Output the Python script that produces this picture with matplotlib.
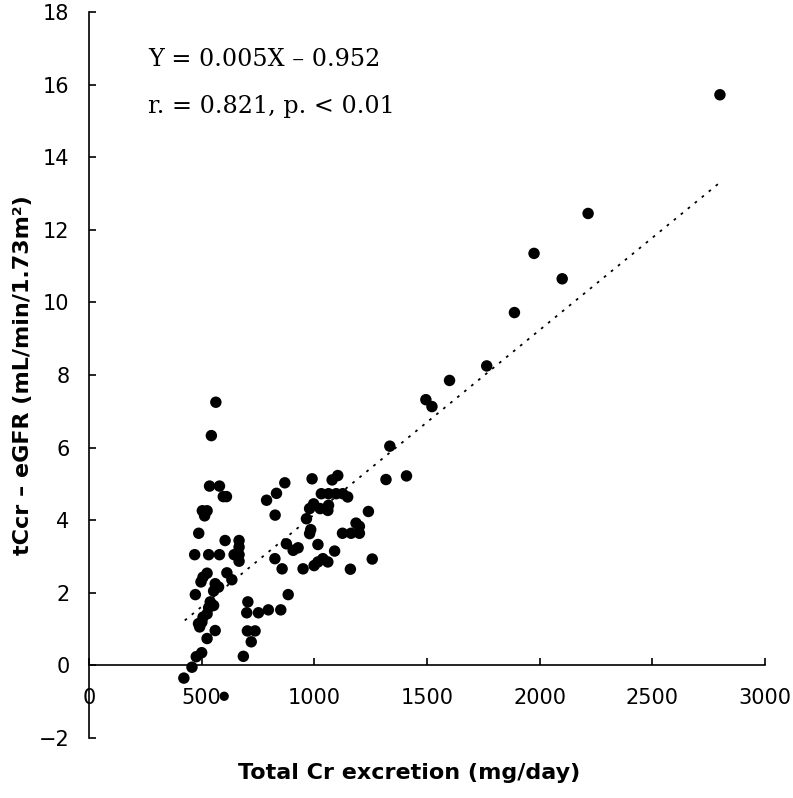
import numpy as np
import matplotlib
matplotlib.use("Agg")
import matplotlib.pyplot as plt

# Data
cr_excretion = [421, 457, 476, 500, 524, 560, 685, 720, 703, 737,
                700, 752, 705, 796, 851, 884, 491, 501, 486, 506,
                524, 531, 553, 538, 472, 553, 575, 560, 497, 506,
                524, 612, 634, 469, 531, 579, 644, 666, 666, 666,
                666, 604, 487, 503, 524, 513, 535, 579, 596, 610,
                543, 563,
                788, 832, 826, 869, 825, 857, 876, 906, 928, 950,
                990, 965, 979, 997, 984, 979, 1016, 999, 1016, 1038,
                1060, 1090, 1031, 1063, 1097, 1126, 1079, 1104, 1026, 1063,
                1060, 1148, 1240, 1185, 1200, 1125, 1163, 1200, 1160, 1257,
                1318, 1409, 1335, 1495, 1522, 1600, 1765, 1888, 1975, 2100,
                2215, 2800]
ccr_diff = [-0.35, -0.05, 0.24, 0.35, 0.74, 0.96, 0.25, 0.65, 0.95, 0.95,
            1.45, 1.45, 1.75, 1.53, 1.53, 1.95, 1.06, 1.19, 1.15, 1.33,
            1.42, 1.59, 1.65, 1.75, 1.95, 2.05, 2.16, 2.25, 2.30, 2.43,
            2.54, 2.55, 2.36, 3.05, 3.05, 3.05, 3.05, 3.05, 3.26, 3.44,
            2.87, 3.44, 3.64, 4.26, 4.26, 4.12, 4.94, 4.94, 4.65, 4.65,
            6.33, 7.25,
            4.55, 4.74, 4.14, 5.03, 2.94, 2.66, 3.35, 3.17, 3.24, 2.66,
            5.14, 4.04, 4.32, 4.45, 3.74, 3.63, 3.33, 2.75, 2.85, 2.94,
            2.85, 3.15, 4.73, 4.73, 4.73, 4.73, 5.11, 5.23, 4.32, 4.41,
            4.27, 4.64, 4.24, 3.92, 3.83, 3.64, 3.64, 3.64, 2.65, 2.93,
            5.12, 5.22, 6.04, 7.32, 7.13, 7.85, 8.25, 9.72, 11.35, 10.65,
            12.45, 15.72]
# one smaller dot just under the axis
odd_x = [600]
odd_y = [-0.85]

fit_slope = 0.00508
fit_icpt = -0.92
fit_range = [425, 2800]

eq_text = "Y = 0.005X – 0.952"
r_text = "r. = 0.821, p. < 0.01"
xlab = "Total Cr excretion (mg/day)"
ylab = "tCcr – eGFR (mL/min/1.73m²)"

fig = plt.figure(figsize=(7.93, 7.98), dpi=100)
ax = fig.add_axes([89/793, 1-738/798, 676/793, 726/798])

ax.scatter(cr_excretion, ccr_diff, s=68, color="black", edgecolors="none", zorder=3)
ax.scatter(odd_x, odd_y, s=45, color="black", edgecolors="none", zorder=3)

lx = np.array(fit_range)
ax.plot(lx, fit_slope*lx + fit_icpt, color="black", lw=1.3,
        linestyle=(0, (1.5, 3.5)), zorder=2)

ax.set_xlim(0, 3000)
ax.set_ylim(-2, 18)
ax.set_xticks(np.arange(0, 3001, 500))
ax.set_yticks(np.arange(-2, 19, 2))

ax.spines["top"].set_visible(False)
ax.spines["right"].set_visible(False)
ax.spines["bottom"].set_position(("data", 0))
for s in ("left", "bottom"):
    ax.spines[s].set_linewidth(1.2)

ax.tick_params(axis="both", direction="in", length=5, width=1.2,
               labelsize=15)
ax.tick_params(axis="x", pad=16)
ax.tick_params(axis="y", pad=14)

ax.set_xlabel(xlab, fontsize=16, fontweight="bold")
ax.set_ylabel(ylab, fontsize=16, fontweight="bold")
ax.xaxis.set_label_coords(0.473, -0.035)
ax.yaxis.set_label_coords(-0.083, 0.5)

# equation text placed in figure pixels (from the top-left)
ax.text(148/793, 1-60/798, eq_text, transform=fig.transFigure, fontsize=17.2,
        family="DejaVu Serif", va="center", ha="left")
ax.text(148/793, 1-107/798, r_text, transform=fig.transFigure, fontsize=17.2,
        family="DejaVu Serif", va="center", ha="left")

fig.savefig("out.png", dpi=100)
